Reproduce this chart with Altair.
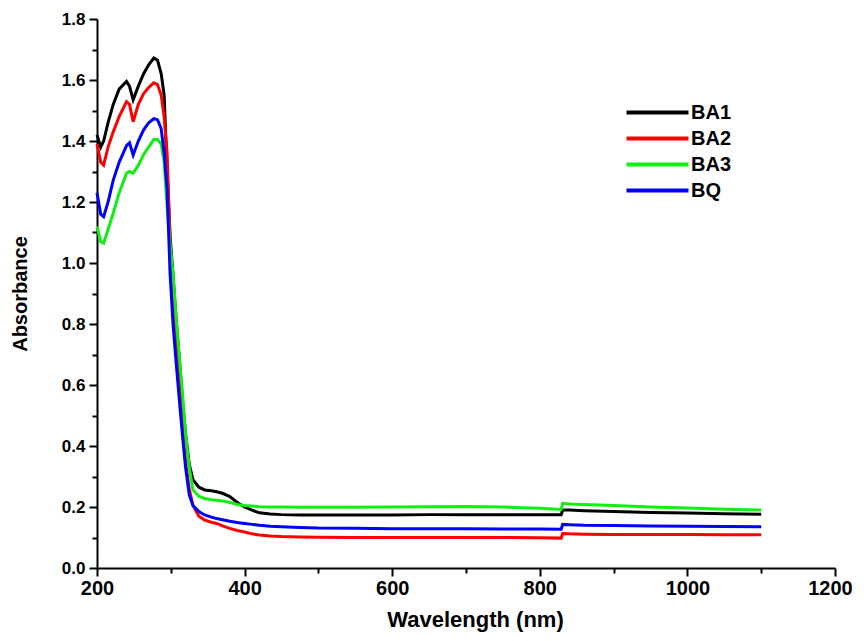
import altair as alt
import pandas as pd

wavelength = [200, 205, 209, 215, 222, 230, 240, 244, 249, 256, 263, 270, 277, 282, 287, 291,
              295, 299, 303, 307, 312, 316, 320, 325, 330, 338, 346, 355, 362, 370, 380, 390,
              400, 410, 420, 435, 450, 475, 500, 550, 600, 650, 700, 750, 800, 829, 831, 840,
              860, 900, 950, 1000, 1050, 1100]

ba1 = [1.42, 1.38, 1.40, 1.46, 1.52, 1.57, 1.595, 1.58, 1.535, 1.58, 1.62, 1.65, 1.672, 1.665, 1.62, 1.55,
       1.30, 1.09, 0.96, 0.82, 0.67, 0.54, 0.44, 0.34, 0.29, 0.265, 0.256, 0.253, 0.25, 0.245, 0.234, 0.215,
       0.20, 0.19, 0.181, 0.177, 0.175, 0.174, 0.174, 0.174, 0.174, 0.175, 0.175, 0.175, 0.175, 0.175, 0.19, 0.19,
       0.188, 0.185, 0.182, 0.18, 0.178, 0.176]

ba2 = [1.39, 1.33, 1.321, 1.38, 1.43, 1.48, 1.529, 1.52, 1.463, 1.52, 1.555, 1.575, 1.591, 1.585, 1.55, 1.48,
       1.36, 1.07, 0.86, 0.72, 0.57, 0.45, 0.35, 0.26, 0.205, 0.17, 0.157, 0.15, 0.146, 0.138, 0.13, 0.123,
       0.118, 0.112, 0.108, 0.105, 0.103, 0.102, 0.101, 0.1, 0.1, 0.1, 0.1, 0.1, 0.099, 0.098, 0.113, 0.112,
       0.111, 0.11, 0.11, 0.11, 0.109, 0.109]

ba3 = [1.12, 1.07, 1.065, 1.11, 1.163, 1.23, 1.294, 1.30, 1.295, 1.32, 1.355, 1.38, 1.405, 1.405, 1.39, 1.33,
       1.185, 1.06, 0.966, 0.83, 0.68, 0.57, 0.44, 0.33, 0.256, 0.235, 0.228, 0.224, 0.222, 0.22, 0.215, 0.208,
       0.205, 0.203, 0.201, 0.2, 0.2, 0.199, 0.199, 0.199, 0.2, 0.201, 0.202, 0.2, 0.196, 0.192, 0.212, 0.21,
       0.208, 0.205, 0.2, 0.197, 0.193, 0.19]

bq = [1.23, 1.16, 1.152, 1.20, 1.272, 1.33, 1.385, 1.394, 1.354, 1.40, 1.436, 1.46, 1.473, 1.47, 1.44, 1.36,
      1.239, 0.967, 0.80, 0.68, 0.54, 0.43, 0.33, 0.24, 0.205, 0.185, 0.174, 0.167, 0.162, 0.158, 0.153, 0.149,
      0.146, 0.143, 0.14, 0.137, 0.135, 0.133, 0.131, 0.13, 0.129, 0.129, 0.129, 0.128, 0.128, 0.127, 0.143, 0.142,
      0.14, 0.139, 0.138, 0.137, 0.136, 0.135]

series_names = ["BA1", "BA2", "BA3", "BQ"]
series_colors = ["#000000", "#ff0000", "#11ee11", "#0000ff"]
x_ticks = [200, 300, 400, 500, 600, 700, 800, 900, 1000, 1100, 1200]
y_ticks = [round(i * 0.1, 1) for i in range(19)]

rows = []
for name, vals in zip(series_names, [ba1, ba2, ba3, bq]):
    for w, a in zip(wavelength, vals):
        rows.append({"Wavelength": w, "Absorbance": a, "Sample": name})
df = pd.DataFrame(rows)

font = "Liberation Sans"

chart = alt.Chart(df).mark_line(strokeWidth=3).encode(
    x=alt.X("Wavelength:Q",
            scale=alt.Scale(domain=[200, 1200], nice=False),
            axis=alt.Axis(title="Wavelength (nm)", values=x_ticks,
                          labelExpr="round(datum.value/100) % 2 == 0 ? datum.value : ''",
                          tickSize={"condition": {"test": "round(datum.value/100) % 2 == 0", "value": 8}, "value": 5},
                          labelOffset={"condition": {"test": "datum.value >= 1200", "value": -5}, "value": 0},
                          labelFontSize=20, titleFontSize=22, titlePadding=11, titleX=378,
                          labelPadding=2, labelFlush=False)),
    y=alt.Y("Absorbance:Q",
            scale=alt.Scale(domain=[0, 1.8], nice=False),
            axis=alt.Axis(title="Absorbance", values=y_ticks,
                          labelExpr="round(datum.value*10) % 2 == 0 ? format(datum.value, '.1f') : ''",
                          tickSize={"condition": {"test": "round(datum.value*10) % 2 == 0", "value": 8}, "value": 5},
                          labelFontSize=17, titleFontSize=20, titlePadding=31, labelPadding=4,
                          labelFlush=False)),
    color=alt.Color("Sample:N",
                    scale=alt.Scale(domain=series_names, range=series_colors),
                    legend=alt.Legend(title=None, orient="none", legendX=548, legendY=81,
                                      symbolType="M-3,0H3", symbolSize=427, symbolStrokeWidth=4,
                                      labelFontSize=20, labelFont=font, labelFontWeight="bold",
                                      labelColor="#000000", labelOffset=21, rowPadding=3, padding=0)),
    order=alt.Order("Wavelength:Q"),
).properties(
    width=738, height=549,
    autosize=alt.AutoSizeParams(type="none"),
    padding={"left": 89, "top": 11, "right": 21, "bottom": 65},
).configure_view(stroke=None).configure_axis(
    grid=False, domainColor="#000000", domainWidth=2, tickColor="#000000", tickWidth=2,
    labelFont=font, labelFontWeight="bold", labelColor="#000000",
    titleFont=font, titleFontWeight="bold", titleColor="#000000",
)

chart.save("out.html", embed_options={"renderer": "svg", "actions": False})
